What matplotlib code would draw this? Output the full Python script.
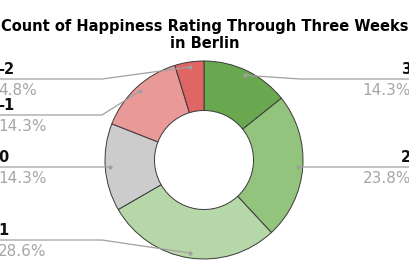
import numpy as np
import matplotlib
matplotlib.use('Agg')
from matplotlib import pyplot as plt

# happiness ratings, clockwise from the top
ratings = ['3', '2', '1', '0', '-1', '-2']
counts = [3, 5, 6, 3, 3, 1]
colors = ['#6aa84f', '#93c47d', '#b6d7a8', '#cccccc', '#ea9999', '#e06666']

W, H = 410, 273
fig = plt.figure(figsize=(W / 100, H / 100), dpi=100)
ax = fig.add_axes([0, 0, 1, 1])

cx, cy, R = 204, H - 160, 99
wedges, _ = ax.pie(counts, colors=colors, startangle=90, counterclock=False,
                   center=(cx, cy), radius=R,
                   wedgeprops=dict(width=R * 0.5, edgecolor='#3a3a3a', linewidth=0.7))
ax.set_xlim(0, W)
ax.set_ylim(0, H)
ax.set_aspect('equal')
ax.axis('off')

total = sum(counts)
# label row (pixels from top) for each slice's leader line
label_rows = {'3': 79, '2': 167, '1': 240, '0': 167, '-1': 115, '-2': 79}

for w, lab, n in zip(wedges, ratings, counts):
    mid = np.deg2rad((w.theta1 + w.theta2) / 2)
    px = cx + 0.95 * R * np.cos(mid)
    py = cy + 0.95 * R * np.sin(mid)
    ly = H - label_rows[lab]
    right = np.cos(mid) > 0
    if right:
        ex, x_end, tx, ha = max(px, 300), W, W + 1, 'right'
    else:
        ex, x_end, tx, ha = min(px, 102), 0, -2, 'left'
    ax.plot([px, ex, x_end], [py, ly, ly], color='#a0a0a0', lw=0.9)
    ax.plot(px, py, 'o', ms=2, color='#a0a0a0')
    ax.text(tx, ly + 2, lab, ha=ha, va='bottom', fontsize=10.5,
            fontweight='bold', color='#111111')
    ax.text(tx, ly - 4, f'{100 * n / total:.1f}%', ha=ha, va='top',
            fontsize=11, color='#a6a6a6')

fig.text(0.5, 1 - 35 / H, 'Count of Happiness Rating Through Three Weeks\nin Berlin',
         ha='center', va='center', fontsize=10.5, fontweight='bold',
         linespacing=1.25)

fig.savefig('out.png', dpi=100)
